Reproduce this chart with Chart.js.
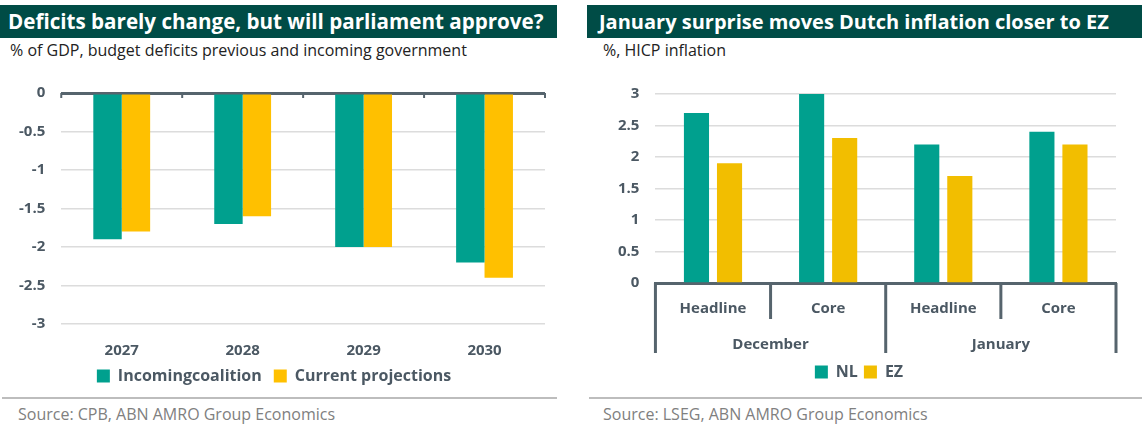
<!DOCTYPE html>
<html>
<head>
<meta charset="utf-8">
<script src="https://cdn.jsdelivr.net/npm/chart.js@4.4.1/dist/chart.umd.min.js"></script>
<style>
  body { margin: 0; background: #fff; font-family: "Open Sans", sans-serif; }
  .panel { position: absolute; top: 0; height: 428px; }
  .title { position: absolute; top: 5px; left: 0; right: 0; height: 33px; background: #004c46; color: #fff;
           font-family: "Open Sans", sans-serif; font-weight: bold; font-size: 20.6px; line-height: 33px; padding-left: 8px; box-sizing: border-box; white-space: nowrap; }
  .sub { position: absolute; top: 39px; left: 10px; font-size: 16px; color: #222; }
  .box { position: absolute; top: 60px; left: 0; right: 0; height: 330px; }
  .rule { position: absolute; top: 397px; left: 2px; right: 0; height: 2px; background: #bdbdbd; }
  .src { position: absolute; top: 403px; left: 18px; font-size: 16px; color: #808080; }
</style>
</head>
<body>
<div class="panel" style="left:0; width:557px;">
  <div class="title">Deficits barely change, but will parliament approve?</div>
  <div class="sub">% of GDP, budget deficits previous and incoming government</div>
  <div class="box" style="height:334px"><canvas id="left"></canvas></div>
  <div class="rule"></div>
  <div class="src">Source: CPB, ABN AMRO Group Economics</div>
</div>
<div class="panel" style="left:587px; width:555px;">
  <div class="title" style="padding-left:12px; font-size:20px">January surprise moves Dutch inflation closer to EZ</div>
  <div class="sub" style="left:16px">%, HICP inflation</div>
  <div class="box"><canvas id="right"></canvas></div>
  <div class="rule"></div>
  <div class="src" style="left:16px">Source: LSEG, ABN AMRO Group Economics</div>
</div>
<script>
// deficit chart data
var years = ['2027', '2028', '2029', '2030'];
var incoming = [-1.9, -1.7, -2.0, -2.2];
var current = [-1.8, -1.6, -2.0, -2.4];

// inflation chart data
var measures = ['Headline', 'Core', 'Headline', 'Core'];
var months = ['December', 'January'];
var nl = [2.7, 3.0, 2.2, 2.4];
var ez = [1.9, 2.3, 1.7, 2.2];

var teal = '#00a08e';
var yellow = '#ffc000';
var yellow2 = '#f2be00';
var axisGrey = '#56646d';
var labelGrey = '#4b5863';
var tickFont = { family: 'Open Sans', size: 15, weight: 'bold' };
var legendFont = { family: 'Open Sans', size: 16, weight: 'bold' };

Chart.defaults.font.family = 'Open Sans';
Chart.defaults.animation = false;

function plainNum(v) { return String(Number(v)); }

// small tick marks under the zero line of the deficit chart
var zeroTicks = {
    id: 'zeroTicks',
    afterDraw: function(chart) {
        var x = chart.scales.x, y0 = chart.scales.y.getPixelForValue(0);
        var ctx = chart.ctx;
        ctx.save();
        ctx.strokeStyle = axisGrey;
        ctx.lineWidth = 2;
        for (var i = 0; i <= years.length; i++) {
            var px = x.getPixelForValue(i - 0.5);
            ctx.beginPath();
            ctx.moveTo(px, y0);
            ctx.lineTo(px, y0 + 5);
            ctx.stroke();
        }
        ctx.restore();
    }
};

// separator lines of the two-level category axis
var groupLines = {
    id: 'groupLines',
    afterDraw: function(chart) {
        var x = chart.scales.x, y0 = chart.scales.y.getPixelForValue(0);
        var ctx = chart.ctx;
        ctx.save();
        ctx.strokeStyle = axisGrey;
        ctx.lineWidth = 3;
        for (var i = 0; i <= measures.length; i++) {
            var px = x.getPixelForValue(i - 0.5);
            var len = (i % 2 == 0) ? 70 : 36;
            ctx.beginPath();
            ctx.moveTo(px, y0);
            ctx.lineTo(px, y0 + len);
            ctx.stroke();
        }
        ctx.restore();
    }
};

new Chart(document.getElementById('left'), {
    type: 'bar',
    data: {
        labels: years,
        datasets: [
            { label: 'Incomingcoalition', data: incoming, backgroundColor: teal },
            { label: 'Current projections', data: current, backgroundColor: yellow }
        ]
    },
    options: {
        responsive: true,
        maintainAspectRatio: false,
        layout: { padding: { top: 33, right: 12, left: 3, bottom: 0 } },
        datasets: { bar: { categoryPercentage: 0.47, barPercentage: 1.0 } },
        scales: {
            x: {
                grid: { display: false },
                border: { display: false },
                ticks: { color: labelGrey, font: tickFont, padding: 10 },
                afterFit: function(s) { s.height -= 14; }
            },
            y: {
                min: -3, max: 0,
                ticks: { stepSize: 0.5, color: labelGrey, font: tickFont, padding: 16, callback: plainNum },
                border: { display: false },
                grid: {
                    drawTicks: false,
                    color: function(c) { return c.tick.value === 0 ? axisGrey : '#dcdcdc'; },
                    lineWidth: function(c) { return c.tick.value === 0 ? 3 : 1.5; }
                }
            }
        },
        plugins: {
            legend: {
                position: 'bottom',
                labels: { boxWidth: 13, boxHeight: 13, color: labelGrey, font: legendFont, padding: 12 }
            },
            tooltip: { enabled: false }
        }
    },
    plugins: [zeroTicks]
});

new Chart(document.getElementById('right'), {
    type: 'bar',
    data: {
        labels: measures,
        datasets: [
            { label: 'NL', data: nl, backgroundColor: teal },
            { label: 'EZ', data: ez, backgroundColor: yellow2 }
        ]
    },
    options: {
        responsive: true,
        maintainAspectRatio: false,
        layout: { padding: { top: 34, right: 26, left: 15, bottom: 0 } },
        datasets: { bar: { categoryPercentage: 0.574, barPercentage: 0.76 } },
        scales: {
            x: {
                grid: { display: false },
                border: { display: true, color: axisGrey, width: 3 },
                ticks: { color: labelGrey, font: tickFont, padding: 9 },
                afterFit: function(s) { s.height += 1; }
            },
            x2: {
                type: 'category',
                labels: months,
                position: 'bottom',
                grid: { display: false },
                border: { display: false },
                ticks: { color: labelGrey, font: tickFont, padding: 0 },
                afterFit: function(s) { s.height += 4; }
            },
            y: {
                min: 0, max: 3,
                ticks: { stepSize: 0.5, color: labelGrey, font: tickFont, padding: 16, callback: plainNum },
                border: { display: false },
                grid: { drawTicks: false, color: '#dcdcdc', lineWidth: 1.5 }
            }
        },
        plugins: {
            legend: {
                position: 'bottom',
                labels: { boxWidth: 13, boxHeight: 13, color: labelGrey, font: legendFont, padding: 6 }
            },
            tooltip: { enabled: false }
        }
    },
    plugins: [groupLines]
});
</script>
</body>
</html>
